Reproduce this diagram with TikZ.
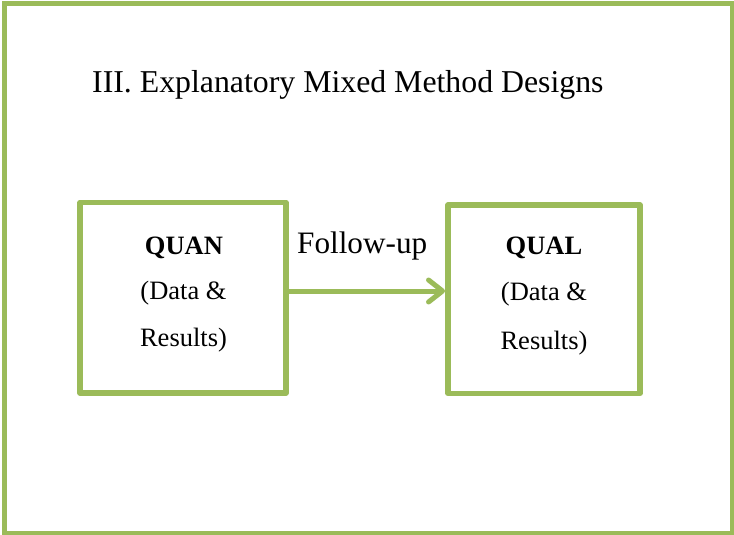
\documentclass[tikz,border=0pt]{standalone}
\usepackage{fontspec}
\setmainfont{Liberation Serif}
\usetikzlibrary{arrows.meta,calc}
\definecolor{olive}{HTML}{9BBB59}
\tikzset{
  x=1pt, y=1pt,
  frame/.style={draw=olive, line width=5pt},
  stagebox/.style={draw=olive, line width=5.5pt, line join=round},
  flow/.style={draw=olive, line width=5pt, line cap=round,
    -{Straight Barb[length=14pt, width=22pt, line cap=round, line join=round]}},
  title/.style={font=\fontsize{31.8}{36}\selectfont, anchor=base west, inner sep=0pt},
  boxtext/.style={font=\fontsize{26.5}{30}\selectfont, anchor=base, inner sep=0pt},
  boxhead/.style={boxtext, font=\fontsize{26.5}{30}\selectfont\bfseries},
}
\begin{document}
\begin{tikzpicture}
  \useasboundingbox (0,0) rectangle (734,-535);
  \fill[white] (0,0) rectangle (734,-535);
  \draw[frame] (4,-3.7) rectangle (732.5,-533);

  \node[title] (head) at (92,-92.5) {III. Explanatory Mixed Method Designs};

  % the two stages
  \path[stagebox] (80,-202.5) rectangle (286,-393);
  \node[minimum width=206pt, minimum height=190.5pt, inner sep=0pt] (quan) at (183,-297.75) {};
  \path[stagebox] (448,-205) rectangle (640,-393.3);
  \node[minimum width=192pt, minimum height=188.3pt, inner sep=0pt] (qual) at (544,-299.15) {};

  \node[boxhead] (quanhead) at (184,-254) {QUAN};
  \node[boxtext] (quandata) at (183.5,-299) {(Data \&};
  \node[boxtext] (quanres) at (183.5,-346) {Results)};

  \node[boxhead] (qualhead) at (544,-254) {QUAL};
  \node[boxtext] (qualdata) at (544,-300) {(Data \&};
  \node[boxtext] (qualres) at (544,-349) {Results)};

  % connector
  \coordinate (flowy) at (0,-291);
  \draw[flow] ($(quan.east |- flowy)+(2.75,0)$) -- ($(qual.west |- flowy)+(-2.75,0)$);
  \node[font=\fontsize{31.2}{36}\selectfont, anchor=base west, inner sep=0pt] (follow) at (297,-253.7) {Follow-up};
\end{tikzpicture}
\end{document}
